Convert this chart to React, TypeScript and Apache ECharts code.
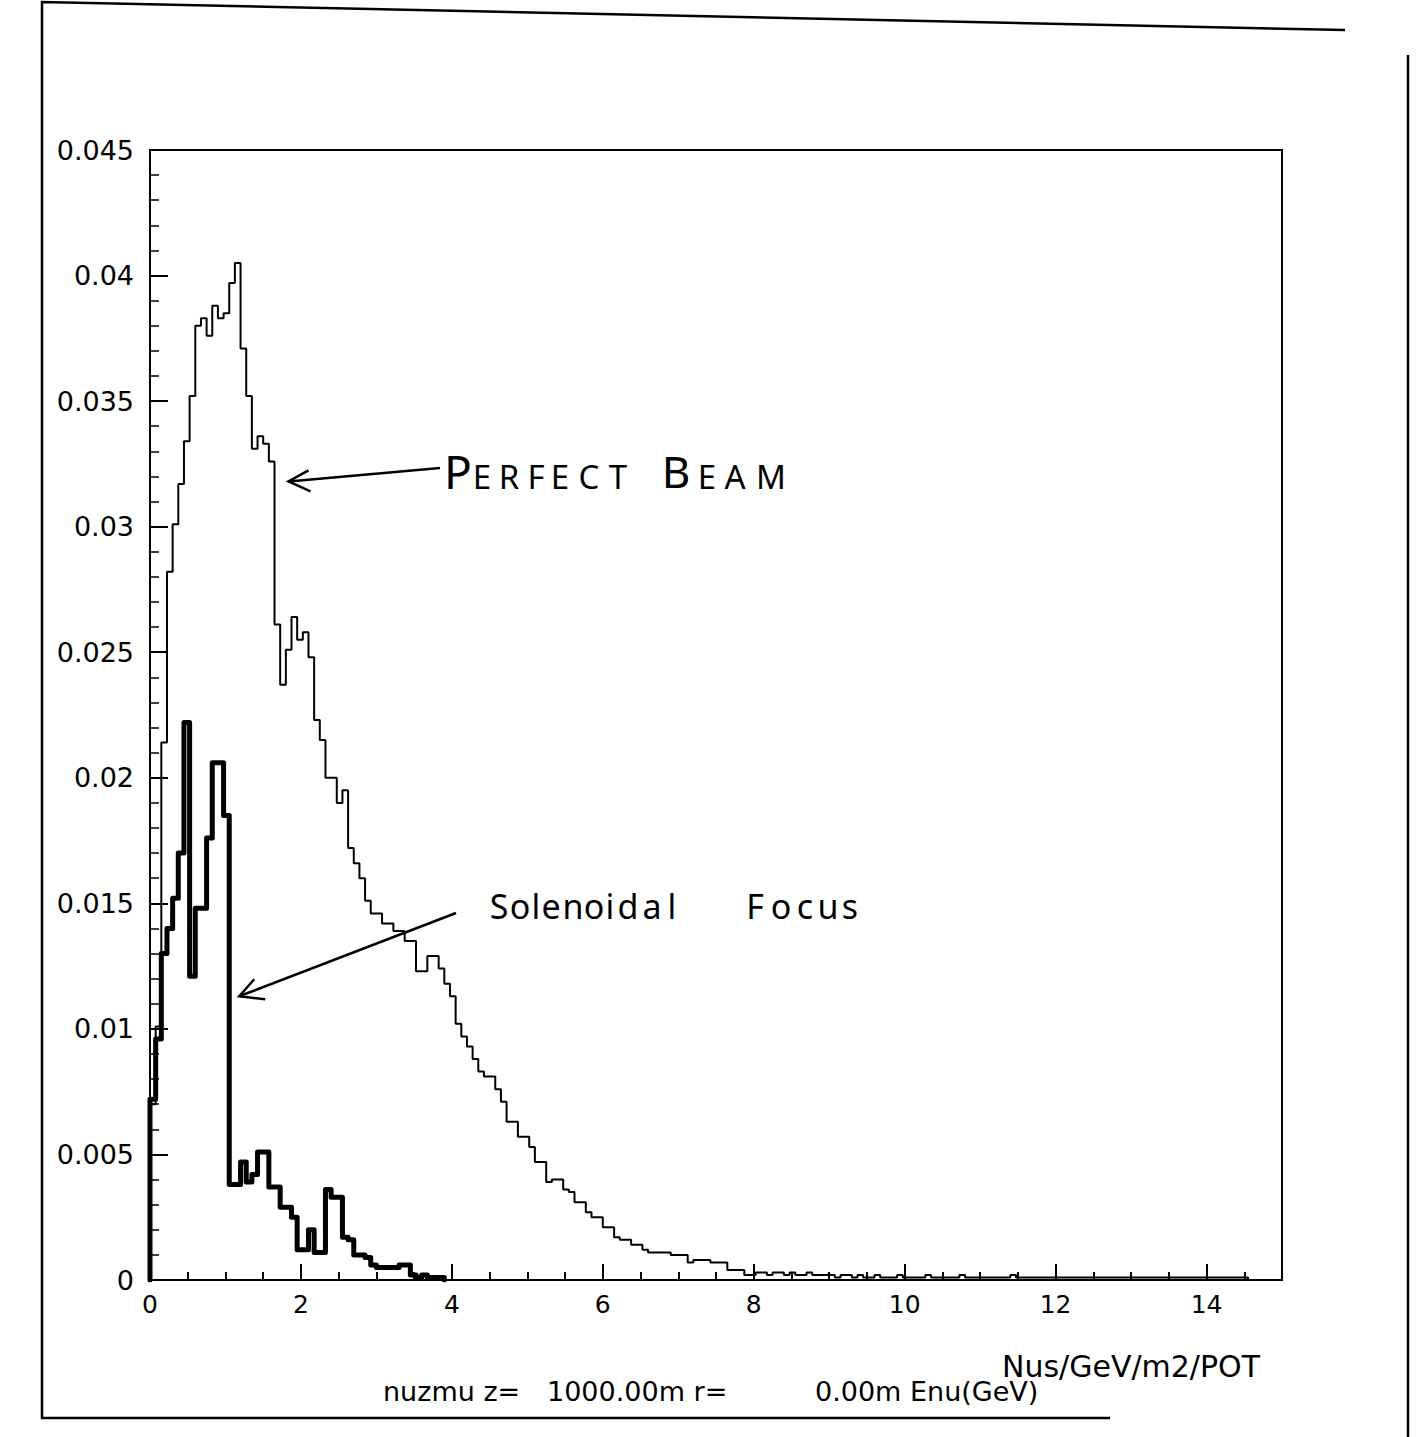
import React, { useEffect, useRef } from "react";
import * as echarts from "echarts";

// Histogram bin width (GeV) shared by both series
const BIN_WIDTH = 0.075;

// "Perfect beam" flux per bin (Nus/GeV/m2/POT), bins start at 0 GeV
const PERFECT_BEAM = [
  0.0070, 0.0101, 0.0214, 0.0282, 0.0301, 0.0317, 0.0334, 0.0352, 0.0380, 0.0383,
  0.0376, 0.0388, 0.0383, 0.0385, 0.0397, 0.0405, 0.0371, 0.0352, 0.0331, 0.0336,
  0.0333, 0.0326, 0.0261, 0.0237, 0.0251, 0.0264, 0.0255, 0.0258, 0.0248, 0.0223,
  0.0215, 0.0200, 0.0200, 0.0190, 0.0195, 0.0172, 0.0166, 0.0160, 0.0151, 0.0146,
  0.0146, 0.0142, 0.0142, 0.0139, 0.0139, 0.0135, 0.0135, 0.0123, 0.0123, 0.0129,
  0.0129, 0.0124, 0.0118, 0.0113, 0.0102, 0.0097, 0.0093, 0.0088, 0.0083, 0.0081,
  0.0081, 0.0076, 0.0071, 0.0063, 0.0063, 0.0057, 0.0057, 0.0053, 0.0047, 0.0047,
  0.0039, 0.0040, 0.0040, 0.0036, 0.0035, 0.0031, 0.0031, 0.0027, 0.0025, 0.0025,
  0.0021, 0.0021, 0.0017, 0.0016, 0.0016, 0.0014, 0.0014, 0.0012, 0.0011, 0.0011,
  0.0011, 0.0011, 0.0010, 0.0010, 0.0010, 0.0007, 0.0008, 0.0008, 0.0008, 0.0007,
  0.0007, 0.0007, 0.0004, 0.0004, 0.0004, 0.0002, 0.0002, 0.0003, 0.0003, 0.0002,
  0.0003, 0.0003, 0.0002, 0.0003, 0.0002, 0.0002, 0.0003, 0.0002, 0.0002, 0.0002,
  0.0002, 0.0001, 0.0002, 0.0002, 0.0001, 0.0002, 0.0001, 0.0001, 0.0002, 0.0001,
  0.0001, 0.0001, 0.0002, 0.0001, 0.0001, 0.0001, 0.0001, 0.0002, 0.0001, 0.0001,
  0.0001, 0.0001, 0.0001, 0.0002, 0.0001, 0.0001, 0.0001, 0.0001, 0.0001, 0.0001,
  0.0001, 0.0001, 0.0002, 0.0001, 0.0001, 0.0001, 0.0001, 0.0001, 0.0001, 0.0001,
  0.0001, 0.0001, 0.0001, 0.0001, 0.0001, 0.0001, 0.0001, 0.0001, 0.0001, 0.0001,
  0.0001, 0.0001, 0.0001, 0.0001, 0.0001, 0.0001, 0.0001, 0.0001, 0.0001, 0.0001,
  0.0001, 0.0001, 0.0001, 0.0001, 0.0001, 0.0001, 0.0001, 0.0001, 0.0001, 0.0001,
  0.0001, 0.0001, 0.0001, 0.0001,
];

// "Solenoidal focus" flux per bin
const SOLENOIDAL_FOCUS = [
  0.0072, 0.0096, 0.0130, 0.0140, 0.0152, 0.0170, 0.0222, 0.0121, 0.0148, 0.0148,
  0.0176, 0.0206, 0.0206, 0.0185, 0.0038, 0.0038, 0.0047, 0.0039, 0.0042, 0.0051,
  0.0051, 0.0037, 0.0037, 0.0029, 0.0029, 0.0025, 0.0012, 0.0012, 0.0020, 0.0011,
  0.0011, 0.0036, 0.0033, 0.0033, 0.0017, 0.0016, 0.0010, 0.0010, 0.0009, 0.0006,
  0.0005, 0.0005, 0.0005, 0.0005, 0.0006, 0.0006, 0.0002, 0.0001, 0.0002, 0.0001,
  0.0001, 0.0001,
];

const X_TICK_VALUES = [0, 2, 4, 6, 8, 10, 12, 14];
const X_TICK_LABELS = ["0", "2", "4", "6", "8", "10", "12", "14"];
const Y_TICK_LABELS = ["0", "0.005", "0.01", "0.015", "0.02", "0.025", "0.03", "0.035", "0.04", "0.045"];

const BOTTOM_INFO = ["nuzmu z=", "1000.00m r=", "0.00m Enu(GeV)"];
const UNITS_LABEL = "Nus/GeV/m2/POT";

function histogramPoints(values: number[], width: number): [number, number][] {
  const pts: [number, number][] = [[0, 0]];
  values.forEach((v, i) => pts.push([i * width, v]));
  pts.push([values.length * width, 0]);
  return pts;
}

const FONT = "DejaVu Sans";
const HAND = "Noto Sans";

function txt(text: string, x: number, y: number, size: number, family: string, align = "left") {
  return {
    type: "text",
    x,
    y,
    silent: true,
    style: {
      text,
      fontSize: size,
      fontFamily: family,
      fill: "#000",
      align,
      verticalAlign: "middle",
      textAlign: align,
      textVerticalAlign: "middle",
    },
  };
}

export default function App() {
  const ref = useRef<HTMLDivElement>(null);

  useEffect(() => {
    document.body.style.margin = "0";
    document.body.style.overflow = "hidden";
    if (!ref.current) return;
    const chart = echarts.init(ref.current, undefined, { renderer: "svg" });

    const option: any = {
      animation: false,
      backgroundColor: "#fff",
      grid: {
        left: 150,
        top: 150,
        width: 1132,
        height: 1130,
        show: true,
        borderColor: "#000",
        borderWidth: 2,
        backgroundColor: "transparent",
        outerBoundsMode: "none",
      },
      xAxis: [
        {
          type: "value",
          min: 0,
          max: 15,
          interval: 2,
          position: "bottom",
          axisLine: { show: true, onZero: false, lineStyle: { color: "#000", width: 2 } },
          axisTick: { show: true, inside: true, length: 16, lineStyle: { color: "#000", width: 2 } },
          splitLine: { show: false },
          axisLabel: {
            color: "#000",
            fontSize: 25,
            fontFamily: FONT,
            margin: 12,
            showMaxLabel: false,
            formatter: (v: number) => {
              const i = X_TICK_VALUES.findIndex((t) => Math.abs(t - v) < 1e-6);
              return i >= 0 ? X_TICK_LABELS[i] : "";
            },
          },
        },
        {
          type: "value",
          min: 0,
          max: 15,
          interval: 0.5,
          position: "bottom",
          axisLine: { show: false },
          axisTick: { show: true, inside: true, length: 8, lineStyle: { color: "#000", width: 2 } },
          splitLine: { show: false },
          axisLabel: { show: false },
        },
      ],
      yAxis: {
        type: "value",
        min: 0,
        max: 0.045,
        interval: 0.005,
        axisLine: { show: true, onZero: false, lineStyle: { color: "#000", width: 2 } },
        axisTick: { show: true, inside: true, length: 18, lineStyle: { color: "#000", width: 2 } },
        minorTick: { show: true, splitNumber: 5, length: 9, lineStyle: { color: "#000", width: 1.5 } },
        splitLine: { show: false },
        minorSplitLine: { show: false },
        axisLabel: {
          color: "#000",
          fontSize: 27,
          fontFamily: FONT,
          margin: 16,
          formatter: (v: number) => Y_TICK_LABELS[Math.round(v / 0.005)] ?? "",
        },
      },
      series: [
        {
          name: "Perfect beam",
          type: "line",
          step: "end",
          xAxisIndex: 0,
          showSymbol: false,
          symbol: "none",
          data: histogramPoints(PERFECT_BEAM, BIN_WIDTH),
          lineStyle: { color: "#000", width: 2 },
          z: 3,
        },
        {
          name: "Solenoidal focus",
          type: "line",
          step: "end",
          xAxisIndex: 0,
          showSymbol: false,
          symbol: "none",
          data: histogramPoints(SOLENOIDAL_FOCUS, BIN_WIDTH),
          lineStyle: { color: "#000", width: 5, join: "round", cap: "round" },
          z: 4,
        },
      ],
    };
    chart.setOption(option);

    // arrow tips anchored to the curves through the chart's own scales
    const pbEdge = 22 * BIN_WIDTH; // drop from the 0.0326 bin
    const pbTip = chart.convertToPixel({ gridIndex: 0 }, [pbEdge, 0.0318]) as number[];
    const sfEdge = 14 * BIN_WIDTH; // big drop of solenoidal focus
    const sfTip = chart.convertToPixel({ gridIndex: 0 }, [sfEdge, 0.0113]) as number[];
    const pt = [pbTip[0] + 14, pbTip[1]];
    const st = [sfTip[0] + 10, sfTip[1]];

    const lineStyle = { stroke: "#000", lineWidth: 2.5, fill: "none" };

    // hand-written annotations, letter by letter
    const perfectLetters: [string, number, number][] = [
      ["P", 458, 46], ["E", 482, 33], ["R", 509, 33], ["F", 536, 33], ["E", 560, 33], ["C", 589, 33], ["T", 618, 33],
      ["B", 676, 44], ["E", 707, 33], ["A", 735, 33], ["M", 771, 33],
    ];
    const solenoidLetters: [string, number][] = [
      ["S", 499], ["o", 520], ["l", 536], ["e", 551], ["n", 573], ["o", 594], ["i", 610], ["d", 628], ["a", 652], ["l", 672],
      ["F", 755], ["o", 781], ["c", 805], ["u", 828], ["s", 850],
    ];

    const graphics: any[] = [
      // page border of the original print-out
      { type: "polyline", silent: true, shape: { points: [[1110, 1418], [42, 1418], [42, 2], [1345, 30]] }, style: lineStyle },
      { type: "line", silent: true, shape: { x1: 1408, y1: 55, x2: 1408, y2: 1437 }, style: lineStyle },
      // bottom info line
      txt(BOTTOM_INFO[0], 383, 1391, 27, FONT),
      txt(BOTTOM_INFO[1], 547, 1391, 27, FONT),
      txt(BOTTOM_INFO[2], 815, 1391, 27, FONT),
      txt(UNITS_LABEL, 1002, 1366, 30, FONT),
      // arrows
      { type: "line", silent: true, shape: { x1: pt[0], y1: pt[1], x2: 440, y2: 468 }, style: { stroke: "#000", lineWidth: 2.5 } },
      { type: "polyline", silent: true, shape: { points: [[pt[0] + 20, pt[1] - 11], [pt[0], pt[1]], [pt[0] + 22, pt[1] + 10]] }, style: lineStyle },
      { type: "line", silent: true, shape: { x1: st[0], y1: st[1], x2: 456, y2: 913 }, style: { stroke: "#000", lineWidth: 2.5 } },
      { type: "polyline", silent: true, shape: { points: [[st[0] + 15, st[1] - 17], [st[0], st[1]], [st[0] + 26, st[1] + 3]] }, style: lineStyle },
    ];
    perfectLetters.forEach(([c, x, s]) => graphics.push(txt(c, x, s > 40 ? 471 : 476, s, HAND, "center")));
    solenoidLetters.forEach(([c, x]) => graphics.push(txt(c, x, 906, 34, HAND, "center")));

    chart.setOption({ graphic: graphics });

    return () => chart.dispose();
  }, []);

  return (
    <div
      ref={ref}
      style={{ position: "absolute", left: 0, top: 0, width: 1418, height: 1437, background: "#fff" }}
    />
  );
}
